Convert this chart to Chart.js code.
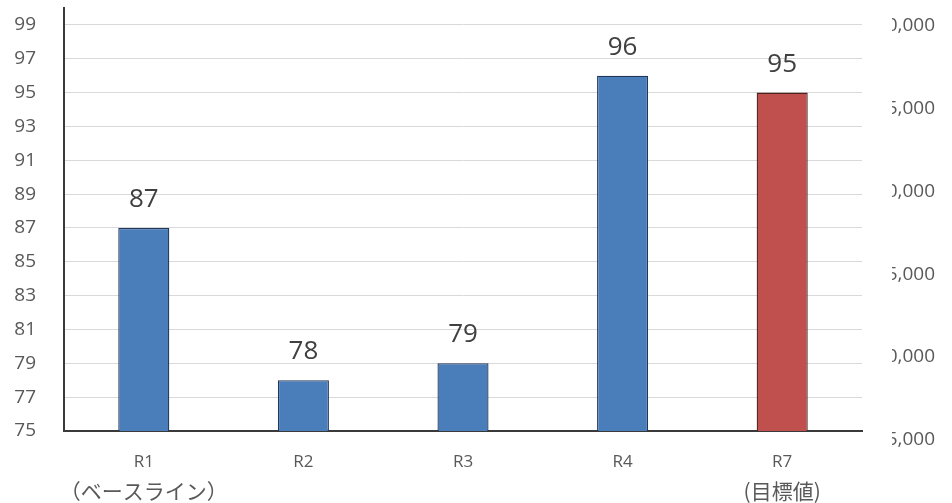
<!DOCTYPE html>
<html lang="ja">
<head>
<meta charset="utf-8">
<title>R1〜R7 推移</title>
<script src="https://cdn.jsdelivr.net/npm/chart.js@4/dist/chart.umd.min.js"></script>
<style>
  html, body { margin: 0; padding: 0; background: #ffffff; }
  #wrap { width: 952px; height: 503px; }
</style>
</head>
<body>
<div id="wrap"><canvas id="chart" width="952" height="503"></canvas></div>
<script>
// Categories (year) and second-line notes under them
const categories = ['R1', 'R2', 'R3', 'R4', 'R7'];
const categoryNotes = ['（ベースライン）', '', '', '', '(目標値)'];

// Bar values
const values = [87, 78, 79, 96, 95];

// Left axis tick values
const leftTicks = [75, 77, 79, 81, 83, 85, 87, 89, 91, 93, 95, 97, 99];

// Right axis tick values
const rightTicks = [5000, 10000, 15000, 20000, 25000, 30000];

// Bar colours: actual results in blue, the target in red
const BLUE = '#4a7ebb';
const RED = '#c0504d';
const barFill = [BLUE, BLUE, BLUE, BLUE, RED];
const barEdge = ['#22365a', '#22365a', '#22365a', '#22365a', '#4a2220'];

const FONT = "'Open Sans', 'Noto Sans CJK JP', sans-serif";
const CJK_FONT = "'Noto Sans CJK JP', sans-serif";

// Value labels printed above each bar
const valueLabels = {
  id: 'valueLabels',
  afterDatasetsDraw(chart) {
    const ctx = chart.ctx;
    const meta = chart.getDatasetMeta(0);
    ctx.save();
    ctx.font = '26px ' + FONT;
    ctx.fillStyle = '#404040';
    ctx.textAlign = 'center';
    ctx.textBaseline = 'alphabetic';
    meta.data.forEach((bar, i) => {
      ctx.fillText(String(chart.data.datasets[0].data[i]), bar.x, bar.y - 21);
    });
    ctx.restore();
  }
};

// Larger second-line notes under the category names
const categoryNoteLabels = {
  id: 'categoryNoteLabels',
  afterDraw(chart) {
    const ctx = chart.ctx;
    const xs = chart.scales.x;
    ctx.save();
    ctx.font = '21px ' + CJK_FONT;
    ctx.fillStyle = '#595959';
    ctx.textAlign = 'center';
    ctx.textBaseline = 'middle';
    categoryNotes.forEach((note, i) => {
      if (note) ctx.fillText(note, xs.getPixelForTick(i), xs.top + 60);
    });
    ctx.restore();
  }
};

// The secondary axis labels sit partly hidden behind a blank strip
const rightAxisMask = {
  id: 'rightAxisMask',
  afterDraw(chart) {
    const ctx = chart.ctx;
    const a = chart.chartArea;
    ctx.save();
    ctx.fillStyle = '#ffffff';
    ctx.fillRect(a.right + 4, 0, 26, chart.height);
    ctx.restore();
  }
};

// Fixed axis sizes so the plot area keeps its proportions
const fitX = (scale) => { scale.height = 72; scale.paddingLeft = 0; scale.paddingRight = 0; };
const fitLeft = (scale) => { scale.width = 50; scale.paddingTop = 0; scale.paddingBottom = 0; };
const fitRight = (scale) => { scale.width = 73; scale.paddingTop = 0; scale.paddingBottom = 0; };

new Chart(document.getElementById('chart'), {
  type: 'bar',
  data: {
    labels: categories,
    datasets: [{
      data: values,
      backgroundColor: barFill,
      borderColor: barEdge,
      borderWidth: 1.3,
      barPercentage: 0.32,
      categoryPercentage: 1,
      yAxisID: 'y'
    }]
  },
  options: {
    responsive: false,
    animation: false,
    layout: { padding: { top: 8, right: 17, bottom: 0, left: 14 } },
    plugins: {
      legend: { display: false },
      title: { display: false },
      tooltip: { enabled: false }
    },
    scales: {
      x: {
        afterFit: fitX,
        grid: { display: false, drawTicks: false },
        border: { display: true, color: '#3a3a3a', width: 2 },
        ticks: {
          color: '#595959',
          font: { family: FONT, size: 17, lineHeight: 1.2 },
          padding: 21,
          maxRotation: 0,
          autoSkip: false
        }
      },
      y: {
        position: 'left',
        min: 75,
        max: 100,
        afterBuildTicks: (axis) => { axis.ticks = leftTicks.map(v => ({ value: v })); },
        afterFit: fitLeft,
        grid: { color: '#d9d9d9', lineWidth: 1, drawTicks: false },
        border: { display: true, color: '#3a3a3a', width: 2 },
        ticks: {
          color: '#595959',
          font: { family: FONT, size: 19 },
          padding: 28
        }
      },
      y2: {
        position: 'right',
        min: 5000,
        max: 30500,
        afterBuildTicks: (axis) => { axis.ticks = rightTicks.map(v => ({ value: v })); },
        afterFit: fitRight,
        grid: { display: false, drawTicks: false },
        border: { display: false },
        ticks: {
          color: '#595959',
          font: { family: FONT, size: 19 },
          padding: 14,
          crossAlign: 'far',
          labelOffset: 9,
          callback: (v) => Number(v).toLocaleString('en-US')
        }
      }
    }
  },
  plugins: [valueLabels, categoryNoteLabels, rightAxisMask]
});
</script>
</body>
</html>
